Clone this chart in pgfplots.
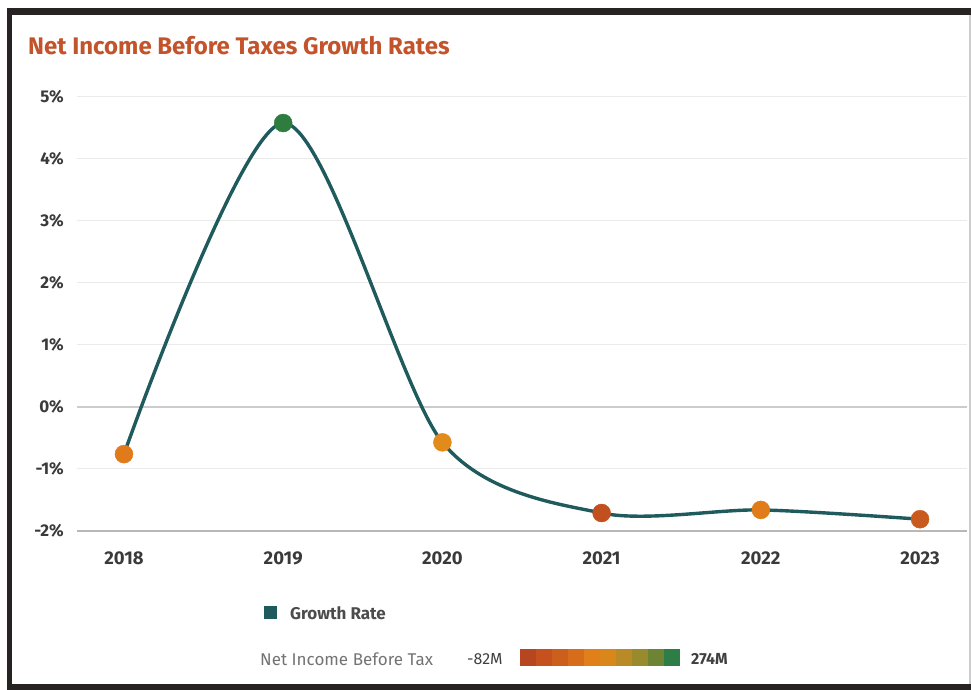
\documentclass[border=0pt]{standalone}
\usepackage{pgfplots}
\pgfplotsset{compat=1.18}
\usepackage{fontspec}
\setmainfont{Fira Sans}
\definecolor{teal}{HTML}{1F5A5C}
\definecolor{ttl}{HTML}{C3532A}
\definecolor{tick}{HTML}{3A3A3A}
\definecolor{gridc}{HTML}{EAEAEA}
\definecolor{framec}{HTML}{262322}
\definecolor{cA}{HTML}{E07A1A}
\definecolor{cB}{HTML}{2E7D3E}
\definecolor{cC}{HTML}{E08B1B}
\definecolor{cD}{HTML}{C2501F}
\definecolor{cE}{HTML}{E07D1A}
\definecolor{cF}{HTML}{C95A1E}
\begin{document}
\begin{tikzpicture}
\begin{axis}[
  at={(0pt,0pt)}, anchor=south west,
  scale only axis, width=890pt, height=434pt,
  xmin=-0.295, xmax=5.295, ymin=-2, ymax=5,
  axis line style={draw=none},
  xtick={0,1,2,3,4,5},
  xticklabels={2018,2019,2020,2021,2022,2023},
  ytick={-2,-1,0,1,2,3,4,5},
  yticklabels={-2\%,-1\%,0\%,1\%,2\%,3\%,4\%,5\%},
  major tick length=0pt,
  ymajorgrids, major grid style={draw=gridc, line width=1pt},
  yticklabel style={inner sep=0pt, anchor=east, xshift=-13pt, text=tick, font=\fontsize{17}{19}\selectfont\bfseries},
  xticklabel style={inner sep=0pt, anchor=north, yshift=-21pt, text=tick, font=\fontsize{18.5}{21}\selectfont\bfseries},
  /pgf/number format/assume math mode=true,
  clip=false,
]
\coordinate (O) at (rel axis cs:0,0);
\draw[black!20, line width=1.5pt] (axis cs:-0.295,0) -- (axis cs:5.295,0);
\draw[black!28, line width=1.5pt] (axis cs:-0.295,-2) -- (axis cs:5.295,-2);
\addplot[teal, line width=3.4pt, smooth, tension=0.48, no marks] coordinates {
 (0,-0.76) (1,4.58) (2,-0.57) (3,-1.71) (4,-1.66) (5,-1.81)};
\addplot[only marks, mark=*, mark size=9pt, color=cA] coordinates {(0,-0.76)};
\addplot[only marks, mark=*, mark size=9pt, color=cB] coordinates {(1,4.58)};
\addplot[only marks, mark=*, mark size=9pt, color=cC] coordinates {(2,-0.57)};
\addplot[only marks, mark=*, mark size=9pt, color=cD] coordinates {(3,-1.71)};
\addplot[only marks, mark=*, mark size=9pt, color=cE] coordinates {(4,-1.66)};
\addplot[only marks, mark=*, mark size=9pt, color=cF] coordinates {(5,-1.81)};
\end{axis}
\begin{scope}[shift={(O)}, shift={(-77pt,-159pt)}, x=1pt, y=1pt]
% frame
\fill[framec] (7,675) rectangle (971,682);
\fill[framec] (7,0) rectangle (12,682);
\fill[framec] (7,0) rectangle (971,6);
\fill[gray!40] (969,6) rectangle (971,675);
\path (0,0) rectangle (971,690);
\node[anchor=west, inner sep=0, text=ttl, font=\fontsize{24}{28}\selectfont\bfseries] at (28,644) {Net Income Before Taxes Growth Rates};
% legend
\fill[teal] (264,71) rectangle (277,84);
\node[anchor=west, inner sep=0, text=black!70, font=\fontsize{17}{19}\selectfont\bfseries] at (290,77) {Growth Rate};
\node[anchor=west, inner sep=0, text=black!55, font=\fontsize{17}{19}\selectfont] at (260,31) {Net Income Before Tax};
\node[anchor=west, inner sep=0, text=black!75, font=\fontsize{16}{18}\selectfont] at (467,31) {-82M};
\node[anchor=west, inner sep=0, text=black!75, font=\fontsize{16}{18}\selectfont\bfseries] at (691,31) {274M};
\foreach \c [count=\i from 0] in {B5461F,C4511E,CC5F1C,D66D1B,E0801A,D9861A,B98A25,9A8A2E,6E8435,2E7D46} {
  \definecolor{cb}{HTML}{\c}
  \fill[cb] (520+16*\i,24) rectangle (536+16*\i,41);
}
\end{scope}
\end{tikzpicture}
\end{document}
